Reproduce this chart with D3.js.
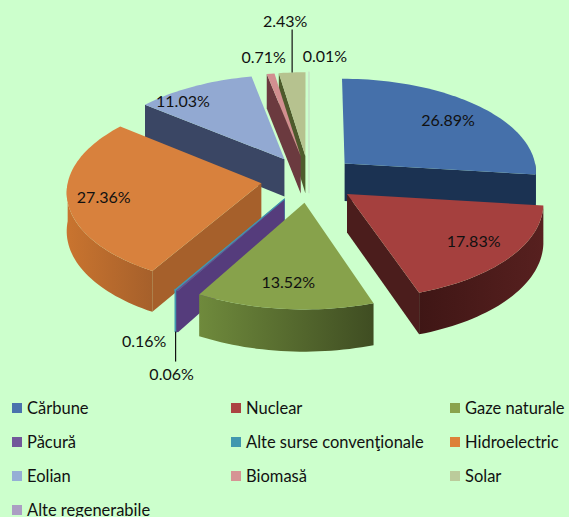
<!DOCTYPE html>
<html>
<head>
<meta charset="utf-8">
<script src="https://cdn.jsdelivr.net/npm/d3@7"></script>
<style>
    html, body { margin: 0; padding: 0; background: #ccffcc; }
    svg { display: block; }
    text { font-family: Lato, "Open Sans", sans-serif; fill: #111; }
</style>
</head>
<body>
<div id="chart"></div>
<script>
    var categories = ["Cărbune", "Nuclear", "Gaze naturale", "Păcură", "Alte surse convenţionale",
        "Hidroelectric", "Eolian", "Biomasă", "Solar", "Alte regenerabile"];
    var shares = [26.89, 17.83, 13.52, 0.16, 0.06, 27.36, 11.03, 0.71, 2.43, 0.01];
    var valueLabels = ["26.89%", "17.83%", "13.52%", "0.16%", "0.06%", "27.36%", "11.03%", "0.71%", "2.43%", "0.01%"];

    // slice colours: legend swatch, top face, flat wall, arc wall left and right
    var swatchColors = ["#4a72ad", "#ab4442", "#89a34c", "#71589a", "#4198af", "#dd8139", "#95aed5", "#d69494", "#bbcb9b", "#ab9ec3"];
    var topColors = ["#4570aa", "#a5403e", "#87a24b", "#6a4f8e", "#4198af", "#d8813d", "#92a9d2", "#d28f90", "#b6c28f", "#c8e8c8"];
    var wallColors = ["#1b3252", "#4b1d1c", "#55692c", "#553c7c", "#3f8a9c", "#a6602b", "#3a4664", "#6b3a3f", "#4e5a2c", "#c8e8c8"];
    var arcLeftColors = ["#1b3252", "#3f1615", "#6f8a3c", "#553c7c", "#3f8a9c", "#c9742f", "#3a4664", "#6b3a3f", "#4e5a2c", "#c8e8c8"];
    var arcRightColors = ["#1b3252", "#57201f", "#3f4d22", "#553c7c", "#3f8a9c", "#a6602b", "#3a4664", "#6b3a3f", "#4e5a2c", "#c8e8c8"];

    // back to front
    var drawOrder = [9, 8, 7, 6, 0, 1, 5, 4, 3, 2];

    // where each label sits along its slice, then nudged in px
    var labelFrac = [0.62, 0.62, 0.62, 1.0, 1.0, 0.62, 0.62, 1.0, 1.0, 1.0];
    var labelNudge = [[19, -8], [28, 8], [-4, 15], [-33, 50], [-4, 84], [-38, 3], [-44, -12], [-7, -17], [-7, -52], [16, -17]];

    var width = 569;
    var height = 517;
    var explode = 0.25;
    var perspective = 0.08;
    var depth = 38;

    var x = d3.scaleLinear().domain([-1, 1]).range([309 - 193, 309 + 193]);
    var y = d3.scaleLinear().domain([-1, 1]).range([179 + 94, 179 - 94]);

    var legendX = d3.scaleLinear().domain([0, 1]).range([12, 231]);
    var legendY = d3.scaleLinear().domain([0, 1]).range([408, 442]);

    var svg = d3.select("#chart").append("svg")
        .attr("width", width)
        .attr("height", height);

    var defs = svg.append("defs");

    var arcs = d3.pie().sort(null)(shares);

    // r in pie radii, a in radians clockwise from the back of the pie, z 0 top 1 bottom
    function project(arc, r, a, z) {
        var mid = (arc.startAngle + arc.endAngle) / 2;
        var u = r * Math.sin(a) + explode * Math.sin(mid);
        var v = r * Math.cos(a) + explode * Math.cos(mid);
        var s = 1 / (1 + perspective * v);
        return [x(u * s), y(v * s) + depth * z * s];
    }

    function rim(arc, z, a0, a1) {
        var n = Math.max(2, Math.ceil((a1 - a0) / 0.03));
        return d3.range(n + 1).map(function (i) {
            return project(arc, 1, a0 + (a1 - a0) * i / n, z);
        });
    }

    var line = d3.line();

    function drawSlice(i) {
        var arc = arcs[i];
        var a0 = arc.startAngle;
        var a1 = arc.endAngle;
        var g = svg.append("g").attr("class", "slice");

        // the thinnest slices would vanish without an outline
        if (shares[i] < 0.1) {
            g.attr("stroke", topColors[i]).attr("stroke-width", 1.5);
        }

        // radial walls facing the viewer
        [[a0, Math.cos(a0 - Math.PI / 2)], [a1, Math.cos(a1 + Math.PI / 2)]].forEach(function (w) {
            if (w[1] < 0) {
                g.append("path")
                    .attr("d", line([
                        project(arc, 0, 0, 0),
                        project(arc, 1, w[0], 0),
                        project(arc, 1, w[0], 1),
                        project(arc, 0, 0, 1)
                    ]) + "Z")
                    .attr("fill", wallColors[i]);
            }
        });

        // outer wall, front half only
        var f0 = Math.max(a0, Math.PI / 2);
        var f1 = Math.min(a1, Math.PI * 1.5);
        if (f1 > f0) {
            var top = rim(arc, 0, f0, f1);
            var bottom = rim(arc, 1, f0, f1).reverse();
            var xs = d3.extent(top, function (p) { return p[0]; });
            var id = "wall" + i;
            var grad = defs.append("linearGradient")
                .attr("id", id)
                .attr("gradientUnits", "userSpaceOnUse")
                .attr("x1", xs[0]).attr("x2", xs[1])
                .attr("y1", 0).attr("y2", 0);
            grad.append("stop").attr("offset", 0).attr("stop-color", arcLeftColors[i]);
            grad.append("stop").attr("offset", 1).attr("stop-color", arcRightColors[i]);
            g.append("path")
                .attr("d", line(top.concat(bottom)) + "Z")
                .attr("fill", "url(#" + id + ")");
        }

        // top face
        g.append("path")
            .attr("d", line([project(arc, 0, 0, 0)].concat(rim(arc, 0, a0, a1))) + "Z")
            .attr("fill", topColors[i]);
    }

    drawOrder.forEach(drawSlice);

    // leader lines for 2.43% and 0.06%
    function leader(i, r, dx, dy) {
        var arc = arcs[i];
        var mid = (arc.startAngle + arc.endAngle) / 2;
        var from = project(arc, 1, mid, r);
        svg.append("line")
            .attr("x1", from[0]).attr("y1", from[1])
            .attr("x2", from[0] + dx).attr("y2", from[1] + dy)
            .attr("stroke", "#111")
            .attr("stroke-width", 1.2);
    }
    leader(8, 0, 0, -43);
    leader(4, 1, 0, 30);

    svg.selectAll("text.value")
        .data(arcs)
        .enter()
        .append("text")
        .attr("class", "value")
        .attr("text-anchor", "middle")
        .attr("dominant-baseline", "central")
        .attr("font-size", 16)
        .attr("x", function (d, i) {
            return project(d, labelFrac[i], (d.startAngle + d.endAngle) / 2, 0)[0] + labelNudge[i][0];
        })
        .attr("y", function (d, i) {
            return project(d, labelFrac[i], (d.startAngle + d.endAngle) / 2, 0)[1] + labelNudge[i][1];
        })
        .text(function (d, i) { return valueLabels[i]; });

    var legend = svg.selectAll("g.legend")
        .data(categories)
        .enter()
        .append("g")
        .attr("class", "legend")
        .attr("transform", function (d, i) {
            return "translate(" + legendX(i % 3) + "," + legendY(Math.floor(i / 3)) + ")";
        });

    legend.append("rect")
        .attr("x", 0)
        .attr("y", -5)
        .attr("width", 10)
        .attr("height", 10)
        .attr("fill", function (d, i) { return swatchColors[i]; });

    legend.append("text")
        .attr("x", 15)
        .attr("dominant-baseline", "central")
        .attr("font-size", 16.5)
        .text(function (d) { return d; });
</script>
</body>
</html>
